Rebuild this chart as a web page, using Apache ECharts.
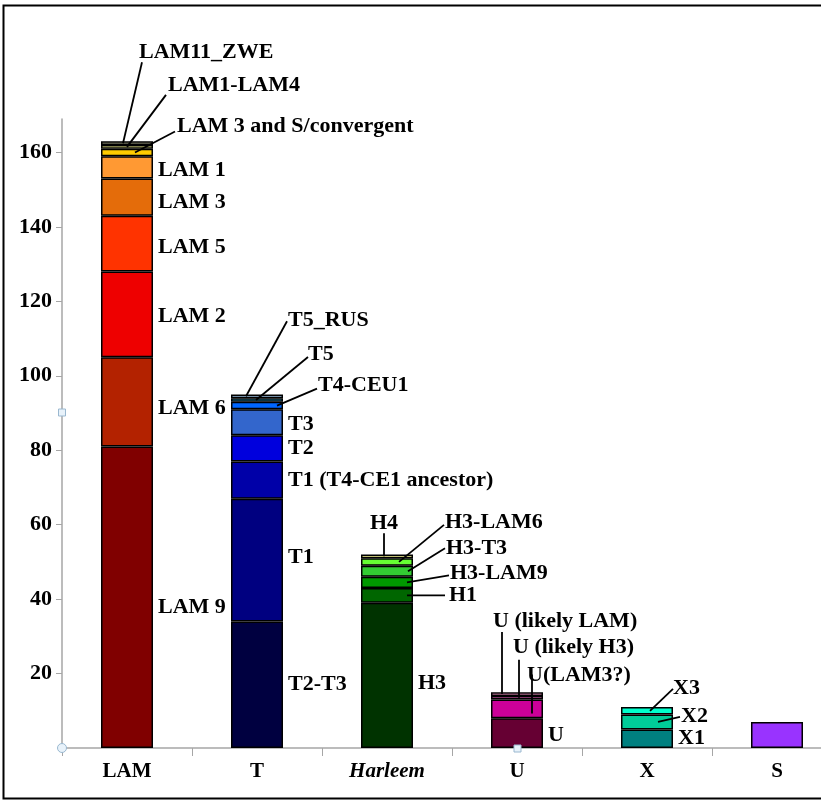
<!DOCTYPE html>
<html><head><meta charset="utf-8">
<script src="https://cdn.jsdelivr.net/npm/echarts@6/dist/echarts.min.js"></script>
<style>html,body{margin:0;padding:0;background:#fff}#c{width:821px;height:802px}</style>
</head><body><div id="c"></div>
<script>
// ---------------- data ----------------
const categories = ['LAM', 'T', 'Harleem', 'U', 'X', 'S'];

const lamNames  = ['LAM 9', 'LAM 6', 'LAM 2', 'LAM 5', 'LAM 3', 'LAM 1', 'LAM 3 and S/convergent', 'LAM1-LAM4', 'LAM11_ZWE'];
const lamValues = [81, 24, 23, 15, 10, 6, 2, 1, 1];

const tNames  = ['T2-T3', 'T1', 'T1 (T4-CE1 ancestor)', 'T2', 'T3', 'T4-CEU1', 'T5', 'T5_RUS'];
const tValues = [34, 33, 10, 7, 7, 2, 1, 1];

const hNames  = ['H3', 'H1', 'H3-LAM9', 'H3-T3', 'H3-LAM6', 'H4'];
const hValues = [39, 4, 3, 3, 2, 1];

const uNames  = ['U', 'U(LAM3?)', 'U (likely H3)', 'U (likely LAM)'];
const uValues = [8, 5, 1, 1];

const xNames  = ['X1', 'X2', 'X3'];
const xValues = [5, 4, 2];

const sNames  = ['S'];
const sValues = [7];

const yTickValues = [20, 40, 60, 80, 100, 120, 140, 160];

// ---------------- styles ----------------
const lamColors = ['#800000', '#b32200', '#ee0000', '#ff3300', '#e46c0a', '#ff9933', '#ffcc00', '#ffff99', '#a9a98a'];
const tColors   = ['#000040', '#000080', '#0000a8', '#0000dd', '#3366cc', '#0066ff', '#33ccff', '#99bbdd'];
const hColors   = ['#003300', '#006600', '#009900', '#33cc33', '#66ff33', '#ffff99'];
const uColors   = ['#660033', '#cc0099', '#ff66cc', '#ff99cc'];
const xColors   = ['#008080', '#00cc99', '#00ffcc'];
const sColors   = ['#9933ff'];

const groups = [
  { names: lamNames, values: lamValues, colors: lamColors },
  { names: tNames,   values: tValues,   colors: tColors },
  { names: hNames,   values: hValues,   colors: hColors },
  { names: uNames,   values: uValues,   colors: uColors },
  { names: xNames,   values: xValues,   colors: xColors },
  { names: sNames,   values: sValues,   colors: sColors }
];

// label layout (pixel offsets)
const labelLayout = {
  'LAM 9': { type: 'right', dy: 10 }, 'LAM 6': { type: 'right', dy: 6 }, 'LAM 2': { type: 'right', dy: 2 },
  'LAM 5': { type: 'right', dy: 4 }, 'LAM 3': { type: 'right', dy: 5 }, 'LAM 1': { type: 'right', dy: 3 },
  'LAM 3 and S/convergent': { type: 'lead', ax: 8, f: 0.5, ex: 40, ey: -21, tdx: 2, tdy: -5 },
  'LAM1-LAM4': { type: 'lead', ax: 0, f: 0.5, ex: 39, ey: -52, tdx: 2, tdy: -10 },
  'LAM11_ZWE': { type: 'lead', ax: -4, f: 0.5, ex: 19, ey: -81, tdx: -3, tdy: -10 },
  'T2-T3': { type: 'right', dy: 0 }, 'T1': { type: 'right', dy: -3 }, 'T1 (T4-CE1 ancestor)': { type: 'right', dy: 0 },
  'T2': { type: 'right', dy: 0 }, 'T3': { type: 'right', dy: 2 },
  'T4-CEU1': { type: 'lead', ax: 20, f: 0.5, ex: 40, ey: -17, tdx: 1, tdy: -3 },
  'T5': { type: 'lead', ax: -1, f: 0.5, ex: 52, ey: -43, tdx: 0, tdy: -3 },
  'T5_RUS': { type: 'lead', ax: -11, f: 0.5, ex: 41, ey: -75, tdx: 1, tdy: -1 },
  'H3': { type: 'right', dy: 8 },
  'H1': { type: 'lead', ax: 20, f: 0.5, ex: 38, ey: 0, tdx: 4, tdy: 0 },
  'H3-LAM9': { type: 'lead', ax: 20, f: 0.5, ex: 42, ey: -7, tdx: 1, tdy: -2 },
  'H3-T3': { type: 'lead', ax: 21, f: 0.5, ex: 37, ey: -23, tdx: 1, tdy: 0 },
  'H3-LAM6': { type: 'lead', ax: 12, f: 0.5, ex: 45, ey: -37, tdx: 1, tdy: -3 },
  'H4': { type: 'lead', ax: -3, f: 0.5, ex: 0, ey: -23, tdx: 0, tdy: -10, align: 'center' },
  'U': { type: 'right', dy: 2 },
  'U(LAM3?)': { type: 'lead', ax: 15, f: 0.26, ex: 0, ey: -39, tdx: -5, tdy: 1 },
  'U (likely H3)': { type: 'lead', ax: 2, f: 0.5, ex: 0, ey: -38, tdx: -6, tdy: -12 },
  'U (likely LAM)': { type: 'lead', ax: -15, f: 0.5, ex: 0, ey: -62, tdx: -9, tdy: -11 },
  'X1': { type: 'right', dy: 0 },
  'X2': { type: 'lead', ax: 11, f: 0.5, ex: 22, ey: -5, tdx: 1, tdy: -1 },
  'X3': { type: 'lead', ax: 3, f: 0.5, ex: 23, ey: -22, tdx: 0, tdy: 0 }
};

const BAR_W = 52;
const FONT = 'bold 22px "Liberation Serif", "Times New Roman", serif';

// ---------------- series ----------------
const series = [];
groups.forEach((g, gi) => {
  g.names.forEach((name, si) => {
    series.push({
      name: name,
      type: 'bar',
      stack: 'all',
      barWidth: BAR_W,
      data: categories.map((c, ci) => ci === gi ? g.values[si] : '-'),
      itemStyle: { color: g.colors[si], borderColor: '#000', borderWidth: 1.5 },
      emphasis: { disabled: true },
      animation: false
    });
  });
});

const chart = echarts.init(document.getElementById('c'));
chart.setOption({
  animation: false,
  backgroundColor: '#fff',
  grid: { left: 62, width: 780, top: 119, bottom: 54, outerBoundsMode: 'none', containLabel: false },
  xAxis: {
    type: 'category',
    data: categories,
    axisLine: { lineStyle: { color: '#a6a6a6', width: 1.5 } },
    axisTick: { show: true, length: 8, lineStyle: { color: '#a6a6a6', width: 1 } },
    axisLabel: {
      interval: 0,
      margin: 13,
      color: '#000',
      fontFamily: '"Liberation Serif", "Times New Roman", serif',
      fontWeight: 'bold',
      fontSize: 21,
      formatter: v => v === 'Harleem' ? '{i|Harleem}' : v,
      rich: { i: { fontStyle: 'italic', fontWeight: 'bold', fontSize: 21, fontFamily: '"Liberation Serif", serif', color: '#000' } }
    }
  },
  yAxis: {
    type: 'value',
    min: 0, max: 169, interval: 20,
    splitLine: { show: false },
    axisLine: { show: true, lineStyle: { color: '#a6a6a6', width: 1.5 } },
    axisTick: { show: true, length: 6, customValues: yTickValues, lineStyle: { color: '#a6a6a6' } },
    axisLabel: {
      margin: 10,
      color: '#000',
      fontFamily: '"Liberation Serif", "Times New Roman", serif',
      fontWeight: 'bold',
      fontSize: 22,
      customValues: yTickValues,
      formatter: v => (v > 0 && v % 20 === 0) ? String(v) : ''
    }
  },
  series: series
});

// ---------------- annotations ----------------
const gfx = [];
groups.forEach((g, gi) => {
  let cum = 0;
  g.names.forEach((name, si) => {
    const v = g.values[si];
    const L = labelLayout[name];
    if (L) {
      if (L.type === 'right') {
        const p = chart.convertToPixel('grid', [gi, cum + v / 2]);
        gfx.push({ type: 'text', z: 100, x: p[0] + BAR_W / 2 + 5, y: p[1] + L.dy,
          style: { text: name, font: FONT, fill: '#000', align: 'left', verticalAlign: 'middle' } });
      } else {
        const p = chart.convertToPixel('grid', [gi, cum + v * L.f]);
        const ax = p[0] + L.ax, ay = p[1];
        const ex = ax + L.ex, ey = ay + L.ey;
        gfx.push({ type: 'line', z: 100, shape: { x1: ax, y1: ay, x2: ex, y2: ey },
          style: { stroke: '#000', lineWidth: 1.8 } });
        gfx.push({ type: 'text', z: 100, x: ex + L.tdx, y: ey + L.tdy,
          style: { text: name, font: FONT, fill: '#000', align: L.align || 'left', verticalAlign: 'middle' } });
      }
    }
    cum += v;
  });
});

// frame and selection handles
const o = chart.convertToPixel('grid', [0, 0]);
gfx.push({ type: 'rect', z: 0, shape: { x: 3.5, y: 5.5, width: 840, height: 793 },
  style: { fill: 'none', stroke: '#000', lineWidth: 2 } });
gfx.push({ type: 'circle', z: 110, shape: { cx: 62, cy: o[1], r: 4.5 },
  style: { fill: '#e8f2fa', stroke: '#9ab8d0', lineWidth: 1 } });
gfx.push({ type: 'rect', z: 110, shape: { x: 58.5, y: 409, width: 7, height: 7 },
  style: { fill: '#e8f2fa', stroke: '#9ab8d0', lineWidth: 1 } });
gfx.push({ type: 'rect', z: 110, shape: { x: 514, y: o[1] - 3, width: 7, height: 7 },
  style: { fill: '#e8f2fa', stroke: '#9ab8d0', lineWidth: 1 } });

chart.setOption({ graphic: { elements: gfx } });
</script>
</body></html>
